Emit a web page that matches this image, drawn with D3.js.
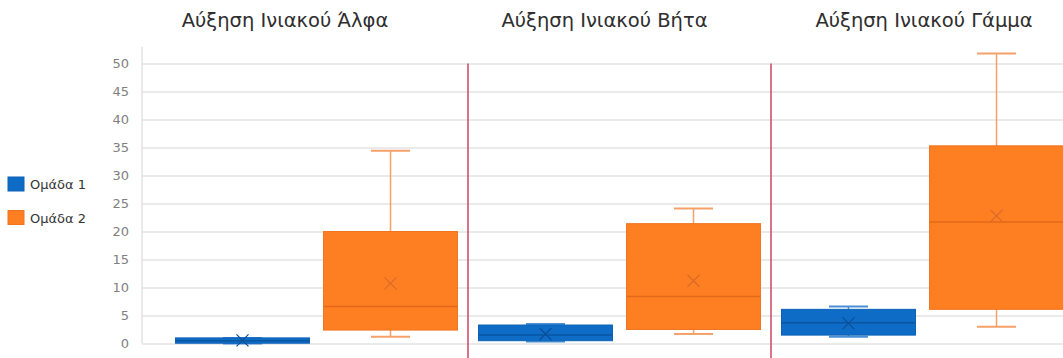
<!DOCTYPE html>
<html>
<head>
<meta charset="utf-8">
<script src="https://cdn.jsdelivr.net/npm/d3@7/dist/d3.min.js"></script>
<style>
  html, body { margin: 0; padding: 0; background: #ffffff; }
  svg { display: block; }
</style>
</head>
<body>
<svg id="chart" width="1063" height="358"></svg>
<script>
// Categories and groups
const categories = ["Αύξηση Ινιακού Άλφα", "Αύξηση Ινιακού Βήτα", "Αύξηση Ινιακού Γάμμα"];
const groups = ["Ομάδα 1", "Ομάδα 2"];

// Five-number summaries plus mean, one value per category
const group1Min    = [0.0, 0.35, 1.2];
const group1Q1     = [0.05, 0.5, 1.5];
const group1Median = [0.5, 1.5, 3.7];
const group1Q3     = [1.0, 3.3, 6.1];
const group1Max    = [1.0, 3.5, 6.6];
const group1Mean   = [0.55, 1.7, 3.6];

const group2Min    = [1.2, 1.7, 3.0];
const group2Q1     = [2.4, 2.5, 6.1];
const group2Median = [6.6, 8.4, 21.7];
const group2Q3     = [20.0, 21.4, 35.3];
const group2Max    = [34.4, 24.1, 51.8];
const group2Mean   = [10.75, 11.2, 22.8];

const yTicks = [0, 5, 10, 15, 20, 25, 30, 35, 40, 45, 50];

// Build box records from the arrays
const stats = [
  { min: group1Min, q1: group1Q1, med: group1Median, q3: group1Q3, max: group1Max, mean: group1Mean },
  { min: group2Min, q1: group2Q1, med: group2Median, q3: group2Q3, max: group2Max, mean: group2Mean }
];
const boxes = [];
categories.forEach((c, ci) => {
  groups.forEach((g, gi) => {
    const s = stats[gi];
    boxes.push({ cat: c, group: g, gi,
      min: s.min[ci], q1: s.q1[ci], med: s.med[ci], q3: s.q3[ci], max: s.max[ci], mean: s.mean[ci] });
  });
});

// Styling
const fills      = ["#0f6cc6", "#fd7f22"];
const edgeColors = ["#0d62b5", "#f07520"];
const medColors  = ["#0a55a0", "#e2691a"];
const meanColors = ["#0a4f96", "#d96a2a"];
const whiskerColors = ["#4a8fd6", "#f4a16a"];

const svg = d3.select("#chart");
const plotLeft = 142, plotRight = 1063;

const y = d3.scaleLinear().domain([0, 50]).range([343.5, 63.5]);

const x0 = d3.scaleBand().domain(categories).range([165, 1074]).paddingInner(0).paddingOuter(0);
const x1 = d3.scaleBand().domain(groups).range([0, x0.bandwidth()]).paddingInner(0.095).paddingOuter(0.071);

// Horizontal gridlines
const grid = svg.append("g").attr("transform", `translate(${plotLeft},0)`)
  .call(d3.axisLeft(y).tickValues(yTicks).tickSize(-(plotRight - plotLeft)).tickFormat(""));
grid.select(".domain").remove();
grid.selectAll(".tick line").attr("stroke", "#e3e3e3").attr("stroke-width", 1.5);

// Vertical axis line
svg.append("line")
  .attr("x1", plotLeft).attr("x2", plotLeft)
  .attr("y1", y(53)).attr("y2", y(0))
  .attr("stroke", "#e3e3e3").attr("stroke-width", 1.5);

// Y axis labels
const yAxis = svg.append("g").attr("transform", `translate(${plotLeft},0)`)
  .call(d3.axisLeft(y).tickValues(yTicks).tickSize(0).tickPadding(13));
yAxis.select(".domain").remove();
yAxis.selectAll("text")
  .attr("fill", "#7f7f7f")
  .style("font-family", "'DejaVu Sans', sans-serif")
  .style("font-size", "13px");

// Category separators
svg.selectAll("line.sep")
  .data(categories.slice(1))
  .join("line")
  .attr("class", "sep")
  .attr("x1", d => x0(d)).attr("x2", d => x0(d))
  .attr("y1", y(50)).attr("y2", 358)
  .attr("stroke", "#cf4660").attr("stroke-width", 1.5);

// Category titles
const titleX = d3.scalePoint().domain(categories).range([285, 924]);
svg.selectAll("text.title")
  .data(categories)
  .join("text")
  .attr("class", "title")
  .attr("x", d => titleX(d))
  .attr("y", 27)
  .attr("text-anchor", "middle")
  .attr("fill", "#2e2e2e")
  .style("font-family", "'DejaVu Sans', sans-serif")
  .style("font-size", "19.5px")
  .text(d => d);

// Boxes
const bw = x1.bandwidth();
const capW = 39;
const boxG = svg.selectAll("g.box")
  .data(boxes)
  .join("g")
  .attr("class", "box")
  .attr("transform", d => `translate(${x0(d.cat) + x1(d.group)},0)`);

// Whiskers
boxG.append("line")
  .attr("x1", bw / 2).attr("x2", bw / 2)
  .attr("y1", d => y(d.max)).attr("y2", d => y(d.min))
  .attr("stroke", d => whiskerColors[d.gi]).attr("stroke-width", 1.5);
boxG.append("line")
  .attr("x1", bw / 2 - capW / 2).attr("x2", bw / 2 + capW / 2)
  .attr("y1", d => y(d.max)).attr("y2", d => y(d.max))
  .attr("stroke", d => whiskerColors[d.gi]).attr("stroke-width", 2);
boxG.append("line")
  .attr("x1", bw / 2 - capW / 2).attr("x2", bw / 2 + capW / 2)
  .attr("y1", d => y(d.min)).attr("y2", d => y(d.min))
  .attr("stroke", d => whiskerColors[d.gi]).attr("stroke-width", 2);

// Interquartile box
boxG.append("rect")
  .attr("x", 0).attr("width", bw)
  .attr("y", d => y(d.q3))
  .attr("height", d => Math.max(1, y(d.q1) - y(d.q3)))
  .attr("fill", d => fills[d.gi])
  .attr("stroke", d => edgeColors[d.gi]).attr("stroke-width", 1);

// Median line
boxG.append("line")
  .attr("x1", 0).attr("x2", bw)
  .attr("y1", d => y(d.med)).attr("y2", d => y(d.med))
  .attr("stroke", d => medColors[d.gi]).attr("stroke-width", 1.5);

// Mean marker (X)
const m = 6;
boxG.append("path")
  .attr("d", d => {
    const cx = bw / 2, cy = y(d.mean);
    return `M${cx - m},${cy - m}L${cx + m},${cy + m}M${cx - m},${cy + m}L${cx + m},${cy - m}`;
  })
  .attr("stroke", d => meanColors[d.gi]).attr("stroke-width", 1.2).attr("fill", "none");

// Legend
const legend = svg.selectAll("g.legend")
  .data(groups)
  .join("g")
  .attr("class", "legend")
  .attr("transform", (d, i) => `translate(8,${177 + i * 33.5})`);
legend.append("rect")
  .attr("width", 16).attr("height", 14)
  .attr("fill", (d, i) => fills[i])
  .attr("stroke", (d, i) => edgeColors[i]).attr("stroke-width", 1);
legend.append("text")
  .attr("x", 22).attr("y", 12)
  .attr("fill", "#333333")
  .style("font-family", "'DejaVu Sans', sans-serif")
  .style("font-size", "13px")
  .text(d => d);
</script>
</body>
</html>
